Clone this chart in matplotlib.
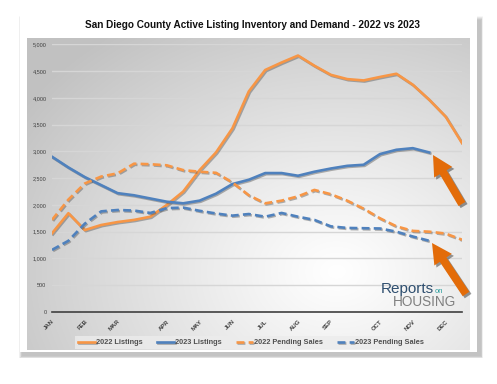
import numpy as np
import matplotlib
matplotlib.use("Agg")
import matplotlib.pyplot as plt
import matplotlib.patheffects as pe
from matplotlib.patches import Rectangle, FancyArrow

plt.rcParams['font.family'] = ['Liberation Sans', 'DejaVu Sans']

# data (semi-monthly points, index 0..25)
months = ["JAN", "FEB", "MAR", "APR", "MAY", "JUN", "JUL", "AUG", "SEP", "OCT", "NOV", "DEC"]
month_pos = [0, 2, 4, 7, 9, 11, 13, 15, 17, 20, 22, 24]

listings_2022 = [1470, 1845, 1530, 1625, 1680, 1720, 1780, 2000, 2250, 2650, 2980, 3430, 4120,
                 4520, 4660, 4790, 4600, 4430, 4350, 4325, 4390, 4450, 4245, 3965, 3650, 3155]
listings_2023 = [2900, 2700, 2520, 2370, 2220, 2180, 2120, 2060, 2030, 2080, 2210, 2390, 2470,
                 2595, 2595, 2545, 2620, 2680, 2730, 2750, 2950, 3030, 3060, 2980]
pending_2022 = [1720, 2100, 2400, 2530, 2590, 2770, 2760, 2740, 2650, 2620, 2600, 2420, 2180,
                2030, 2080, 2160, 2280, 2200, 2080, 1930, 1750, 1600, 1515, 1500, 1465, 1350]
pending_2023 = [1160, 1330, 1650, 1880, 1905, 1895, 1850, 1940, 1950, 1890, 1840, 1800, 1830,
                1780, 1850, 1780, 1720, 1600, 1570, 1565, 1560, 1500, 1410, 1330]

orange = "#F79646"
blue = "#4F81BD"
arrow_col = "#E36C09"

W, H = 497, 384
fig = plt.figure(figsize=(W / 100, H / 100), dpi=100)
fig.patch.set_facecolor("white")

# background layer in pixel coords
bg = fig.add_axes([0, 0, 1, 1], zorder=0)
bg.axis("off")

# card shadow
for i in range(8):
    bg.add_patch(Rectangle((20 - 1 + i * 0.4, 16 + i * 0.5), 457 + 2 + (8 - i) * 0.6, 336 + (8 - i) * 0.8,
                           facecolor="black", alpha=0.03, edgecolor="none", zorder=1))
bg.add_patch(Rectangle((20, 16), 457, 336, facecolor="white", edgecolor="none", zorder=1.5))

# gray radial gradient panel
px0, px1, py0, py1 = 27, 470, 38, 350
gx, gy = np.meshgrid(np.linspace(0, 1, 300), np.linspace(0, 1, 220))
r = np.sqrt(((gx - 0.7) / 0.85) ** 2 + ((gy - 0.75) / 0.95) ** 2)
shade = 1.0 - 0.24 * np.clip(r, 0, 1) ** 1.1
img = np.dstack([shade, shade, shade])
bg.imshow(img, extent=(px0, px1, py1, py0), aspect="auto", interpolation="bilinear", zorder=2)
bg.set_xlim(0, W)
bg.set_ylim(H, 0)

# main chart
ax = fig.add_axes([52 / W, 1 - 312 / H, 410 / W, (312 - 44.3) / H], zorder=1)
ax.patch.set_alpha(0)
shadow = [pe.SimpleLineShadow(offset=(0.8, -0.8), shadow_color="#555555", alpha=0.45), pe.Normal()]

ax.plot(range(len(listings_2022)), listings_2022, color=orange, lw=1.9, label="2022 Listings",
        path_effects=shadow, solid_joinstyle="round")
ax.plot(range(len(listings_2023)), listings_2023, color=blue, lw=1.9, label="2023 Listings",
        path_effects=shadow, solid_joinstyle="round")
ax.plot(range(len(pending_2022)), pending_2022, color=orange, lw=1.9, ls=(0, (3, 1.6)),
        label="2022 Pending Sales", path_effects=shadow)
ax.plot(range(len(pending_2023)), pending_2023, color=blue, lw=1.9, ls=(0, (3, 1.6)),
        label="2023 Pending Sales", path_effects=shadow)

ax.set_xlim(0, 25)
ax.set_ylim(0, 5000)
ax.set_yticks(np.arange(0, 5001, 500))
ax.set_yticklabels([f"{v:,}" for v in range(0, 5001, 500)], fontsize=4, color="#404040")
ax.set_xticks(month_pos)
ax.set_xticklabels(months, rotation=45, ha="right", va="top", rotation_mode="anchor",
                   fontsize=4.3, color="#404040", fontweight="bold")
ax.tick_params(length=0, pad=4)
ax.tick_params(axis="x", pad=5)
ax.grid(axis="y", color="#d6d6d6", lw=1)
ax.set_axisbelow(True)
for s in ["top", "right", "left"]:
    ax.spines[s].set_visible(False)
ax.spines["bottom"].set_color("#404040")
ax.spines["bottom"].set_linewidth(1.2)

# title
fig.text(252 / W, 1 - 25 / H, "San Diego County Active Listing Inventory and Demand - 2022 vs 2023",
         ha="center", va="center", fontsize=7.2, fontweight="bold", color="#111111")

# legend
leg = fig.legend(loc="center", bbox_to_anchor=(251 / W, 1 - 342.5 / H), ncol=4,
                 frameon=True, handlelength=2.3, columnspacing=2.0, handletextpad=0.1,
                 borderpad=0.45, prop={"weight": "bold", "size": 5.3})
leg.get_frame().set_facecolor("#ececec")
leg.get_frame().set_edgecolor("none")
leg.get_frame().set_boxstyle("square", pad=0)
for t in leg.get_texts():
    t.set_color("#505050")

# foreground: arrows and logo
fg = fig.add_axes([0, 0, 1, 1], zorder=3)
fg.set_xlim(0, W)
fg.set_ylim(H, 0)
fg.axis("off")
arrow_fx = [pe.SimplePatchShadow(offset=(1.5, -1.5), shadow_rgbFace="#333333", alpha=0.5), pe.Normal()]
for (tx, ty), (hx, hy) in [((462, 204), (433, 155)), ((466, 294), (432, 243))]:
    fg.add_patch(FancyArrow(tx, ty, hx - tx, hy - ty, width=8, head_width=21, head_length=20,
                            length_includes_head=True, facecolor=arrow_col, edgecolor="none",
                            path_effects=arrow_fx))

fg.text(381, 293, "Reports", fontsize=11, color="#2f4f6f", ha="left", va="baseline")
fg.text(435, 293, "on", fontsize=5.5, color="#2a9d9d", ha="left", va="baseline")
fg.text(393, 306, "HOUSING", fontsize=9.8, color="#7f7f7f", ha="left", va="baseline")

fig.savefig("out.png", dpi=100)
